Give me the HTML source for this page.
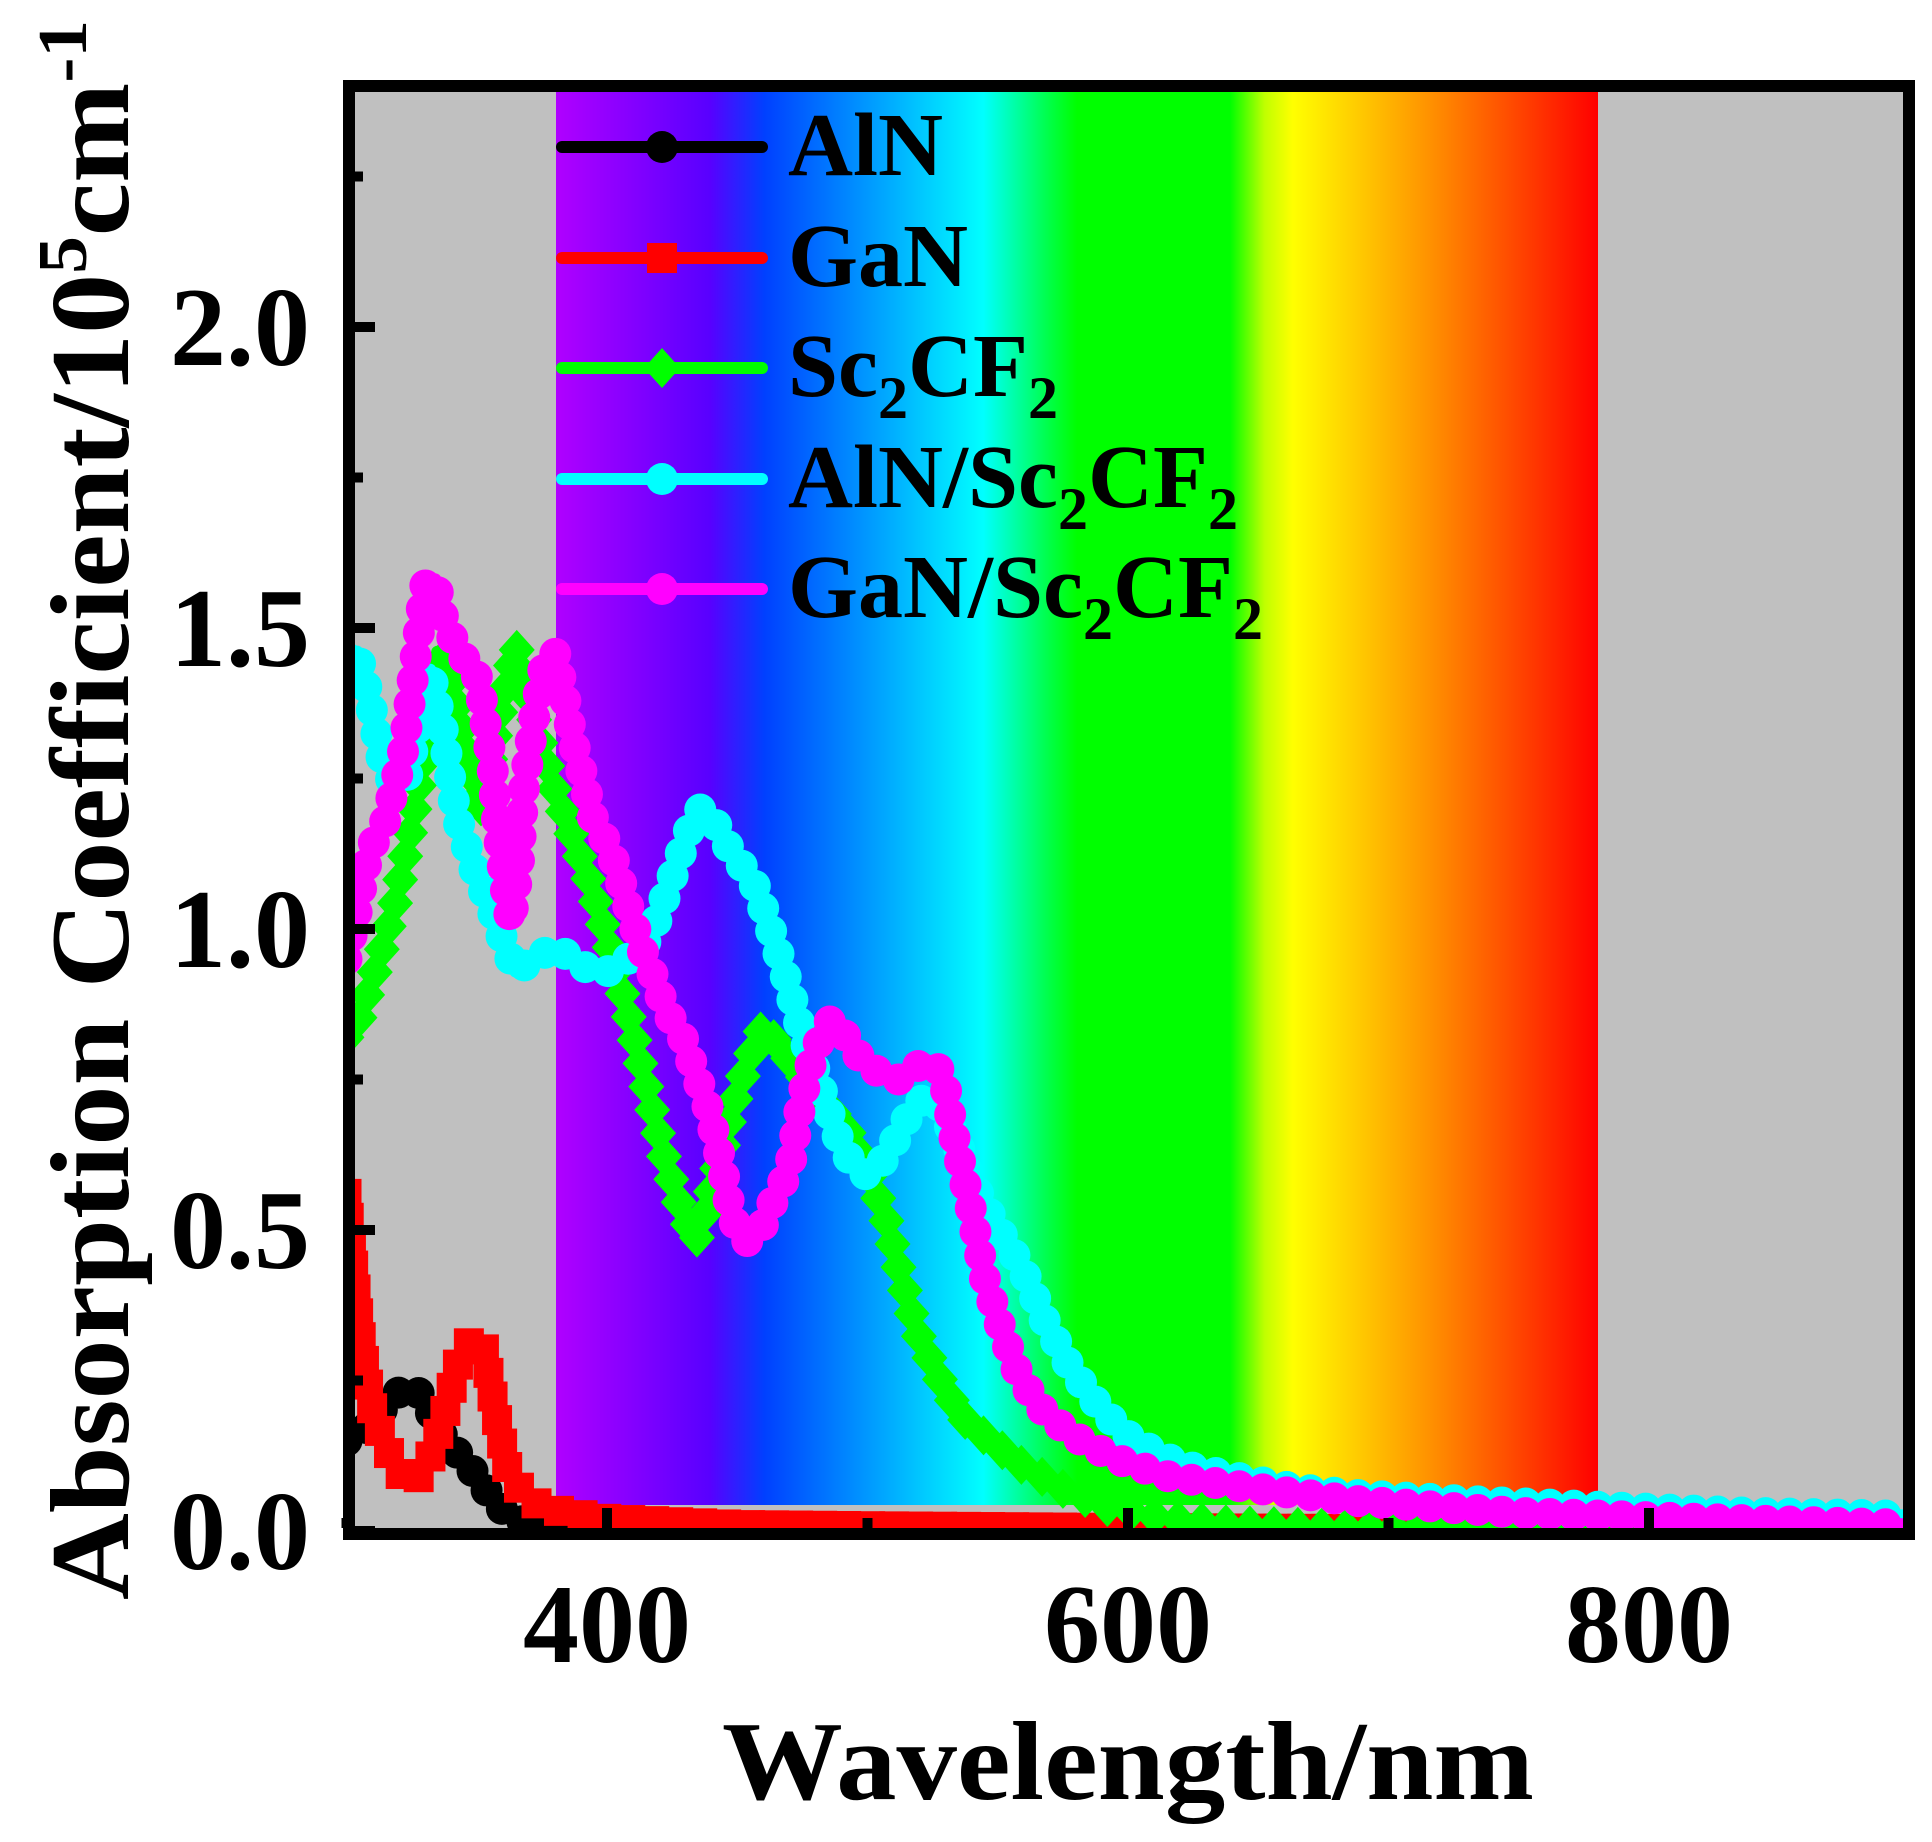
<!DOCTYPE html>
<html><head><meta charset="utf-8"><style>
html,body{margin:0;padding:0;background:#fff;}
svg{display:block;font-family:"Liberation Serif",serif;font-weight:bold;}
</style></head><body>
<svg id="chart" width="1932" height="1842" viewBox="0 0 1932 1842" xmlns="http://www.w3.org/2000/svg">
<defs>
<linearGradient id="spec" x1="0" x2="1" y1="0" y2="0">
<stop offset="0" stop-color="#b000ff"/>
<stop offset="0.148" stop-color="#5800ff"/>
<stop offset="0.2" stop-color="#0040ff"/>
<stop offset="0.29" stop-color="#0090ff"/>
<stop offset="0.41" stop-color="#00ffff"/>
<stop offset="0.47" stop-color="#00ff50"/>
<stop offset="0.5" stop-color="#00ff00"/>
<stop offset="0.647" stop-color="#00ff00"/>
<stop offset="0.68" stop-color="#c0ff00"/>
<stop offset="0.707" stop-color="#ffff00"/>
<stop offset="0.84" stop-color="#ff9000"/>
<stop offset="1" stop-color="#ff0000"/>
</linearGradient>
<clipPath id="plotclip"><rect x="355" y="92" width="1548" height="1436"/></clipPath>
</defs>
<rect x="355" y="92" width="1548" height="1436" fill="#c0c0c0"/>
<rect x="556" y="92" width="1042" height="1413" fill="url(#spec)"/>
<g id="series" clip-path="url(#plotclip)"></g>
<g id="axes"></g>
<g id="legend"></g>
<rect x="349" y="86" width="1560" height="1448" fill="none" stroke="#000" stroke-width="12"/>
<text x="1128" y="1799" text-anchor="middle" font-size="112" textLength="812" lengthAdjust="spacingAndGlyphs">Wavelength/nm</text>
<text transform="translate(128,810) rotate(-90)" text-anchor="middle" font-size="112" textLength="1580" lengthAdjust="spacingAndGlyphs">Absorption Coefficient/10<tspan font-size="70" dy="-42">5</tspan><tspan dy="42">cm</tspan><tspan font-size="70" dy="-42">-1</tspan></text>
</svg>
<script>
const NS='http://www.w3.org/2000/svg';
const xTicks=[400,600,800];
const yTicks=[0,0.5,1.0,1.5,2.0];
const yTickLabels=['0.0','0.5','1.0','1.5','2.0'];
const yMinor=[0.25,0.75,1.25,1.75,2.25];
const alnX=[300,305,310,315,320,325,330,335,340,345,350,355,360,370,380,400,500,600,700,800,900];
const alnY=[0.15,0.16,0.18,0.21,0.23,0.24,0.22,0.17,0.14,0.12,0.09,0.06,0.035,0.01,0.003,0.0,0.0,0.0,0.0,0.0,0.0];
const ganX=[300,303,306,310,315,320,323,328,333,338,343,348,350,353,357,362,368,375,385,400,425,450,500,600,700,800,900];
const ganY=[0.56,0.42,0.3,0.2,0.14,0.1,0.08,0.09,0.13,0.2,0.28,0.32,0.32,0.3,0.2,0.1,0.06,0.04,0.03,0.02,0.015,0.01,0.008,0.005,0.003,0.002,0.001];
const scX=[300,304,311,318,324,330,335,340,346,351,356,361,365,370,375,380,387,394,401,408,415,422,428,434,441,448,454,460,467,474,484,493,500,507,513,519,528,536,547,559,575,592,615,640,680,750,900];
const scY=[0.82,0.84,0.93,1.03,1.15,1.29,1.46,1.42,1.3,1.19,1.3,1.4,1.47,1.38,1.3,1.23,1.15,1.07,0.97,0.86,0.74,0.62,0.54,0.48,0.58,0.7,0.78,0.84,0.8,0.76,0.71,0.66,0.6,0.52,0.42,0.33,0.25,0.19,0.15,0.11,0.07,0.04,0.02,0.01,0.005,0.002,0.0];
const alX=[300,304,309,313,318,323,328,332,337,342,349,356,361,365,372,380,387,394,401,408,413,417,422,427,432,436,441,446,451,457,462,468,474,481,488,494,500,507,512,517,522,526,533,540,549,559,568,578,590,602,620,640,665,687,730,782,840,900];
const alY=[1.45,1.46,1.38,1.29,1.24,1.25,1.35,1.43,1.33,1.19,1.1,1.03,0.97,0.93,0.95,0.97,0.95,0.93,0.93,0.95,0.97,0.99,1.05,1.11,1.17,1.2,1.18,1.14,1.11,1.07,1.01,0.93,0.84,0.75,0.66,0.61,0.59,0.62,0.66,0.7,0.72,0.72,0.66,0.58,0.51,0.44,0.35,0.27,0.2,0.15,0.11,0.09,0.07,0.06,0.05,0.04,0.03,0.025];
const gsX=[300,304,307,311,315,318,322,325,328,330,334,337,341,345,349,352,356,358,361,363,366,368,372,376,380,384,387,391,394,399,403,408,413,418,422,426,429,434,439,444,448,453,458,464,470,474,477,482,486,492,498,505,512,518,524,529,533,539,545,551,557,565,578,595,616,650,687,750,820,900];
const gsY=[0.95,1.03,1.1,1.15,1.18,1.23,1.3,1.4,1.5,1.57,1.58,1.52,1.48,1.45,1.44,1.38,1.27,1.17,1.07,1.01,1.1,1.23,1.35,1.44,1.46,1.38,1.31,1.25,1.19,1.15,1.11,1.04,0.97,0.92,0.87,0.84,0.82,0.76,0.7,0.61,0.52,0.48,0.49,0.55,0.6,0.7,0.76,0.82,0.85,0.82,0.78,0.76,0.75,0.77,0.78,0.76,0.66,0.55,0.42,0.34,0.27,0.21,0.16,0.12,0.09,0.07,0.05,0.03,0.02,0.01];
const xS=v=>607+(v-400)*2.605;
const yS=v=>1531-v*602;
function mk(tag,attrs){const e=document.createElementNS(NS,tag);for(const k in attrs)e.setAttribute(k,attrs[k]);return e;}
const axes=document.getElementById('axes');
xTicks.forEach(t=>{
 const tl=mk('line',{x1:xS(t),x2:xS(t),y1:1528,y2:1508,stroke:'#000','stroke-width':10});
 
 
 axes.appendChild(tl);
 const tx=mk('text',{x:xS(t),y:1662,'text-anchor':'middle','font-size':112});
 
 
 tx.textContent=String(t);axes.appendChild(tx);
});
[300,500,700,900].forEach(t=>{
 const tl=mk('line',{x1:xS(t),x2:xS(t),y1:1528,y2:1518,stroke:'#000','stroke-width':10});
 
 
 axes.appendChild(tl);
});
yTicks.forEach((t,i)=>{
 const tl=mk('line',{x1:355,x2:375,y1:yS(t),y2:yS(t),stroke:'#000','stroke-width':10});
 
 
 axes.appendChild(tl);
 const tx=mk('text',{x:310,y:yS(t)+38,'text-anchor':'end','font-size':112});
 
 
 tx.textContent=yTickLabels[i];axes.appendChild(tx);
});
yMinor.forEach(t=>{
 const tl=mk('line',{x1:355,x2:363,y1:yS(t),y2:yS(t),stroke:'#000','stroke-width':10});
 
 
 axes.appendChild(tl);
});
function marker(g,shape,cx,cy,color){
 let m;
 if(shape==='circle')m=mk('circle',{cx:cx,cy:cy,r:16,fill:color});
 else if(shape==='square')m=mk('rect',{x:cx-15,y:cy-15,width:30,height:30,fill:color});
 else m=mk('polygon',{points:`${cx},${cy-20} ${cx+18},${cy} ${cx},${cy+20} ${cx-18},${cy}`,fill:color});
 g.appendChild(m);return m;
}
const seriesDefs=[
 {name:'AlN',xs:alnX,ys:alnY,color:'#000000',shape:'circle',key:'aln'},
 {name:'GaN',xs:ganX,ys:ganY,color:'#ff0000',shape:'square',key:'gan'},
 {name:'Sc2CF2',xs:scX,ys:scY,color:'#00ff00',shape:'diamond',key:'sc2cf2'},
 {name:'AlN/Sc2CF2',xs:alX,ys:alY,color:'#00ffff',shape:'circle',key:'aln-sc2cf2'},
 {name:'GaN/Sc2CF2',xs:gsX,ys:gsY,color:'#ff00ff',shape:'circle',key:'gan-sc2cf2'}
];
const sg=document.getElementById('series');
seriesDefs.forEach(s=>{
 const g=mk('g',{});
 
 
 const pts=s.xs.map((x,i)=>[xS(x),yS(s.ys[i])]);
 const pl=mk('polyline',{points:pts.map(p=>p.join(',')).join(' '),fill:'none',stroke:s.color,'stroke-width':13,'stroke-linejoin':'round'});
 
 
 g.appendChild(pl);
 let acc=0;const step=24;
 for(let i=0;i<pts.length-1;i++){
  const [x0,y0]=pts[i],[x1,y1]=pts[i+1];
  const L=Math.hypot(x1-x0,y1-y0);
  while(acc<=L){const f=L?acc/L:0;const m=marker(g,s.shape,x0+(x1-x0)*f,y0+(y1-y0)*f,s.color);
   
   
   acc+=step;}
  acc-=L;
 }
 sg.appendChild(g);
});
const lg=document.getElementById('legend');
const legendY=[147,258,368,479,589];
const legendLabels=[['AlN'],['GaN'],['Sc','2','CF','2'],['AlN/Sc','2','CF','2'],['GaN/Sc','2','CF','2']];
seriesDefs.forEach((s,i)=>{
 const g=mk('g',{});
 
 
 g.appendChild(mk('line',{x1:562,x2:762,y1:legendY[i],y2:legendY[i],stroke:s.color,'stroke-width':12,'stroke-linecap':'round'}));
 marker(g,s.shape,662,legendY[i],s.color);
 const t=mk('text',{x:788,y:legendY[i]+28,'font-size':90});
 
 
 legendLabels[i].forEach((part,j)=>{
  const ts=mk('tspan',{});
  if(j%2===1){ts.setAttribute('font-size','60');ts.setAttribute('dy','22');}
  else if(j>0){ts.setAttribute('dy','-22');}
  ts.textContent=part;t.appendChild(ts);
 });
 g.appendChild(t);
 lg.appendChild(g);
});
</script>
</body></html>
